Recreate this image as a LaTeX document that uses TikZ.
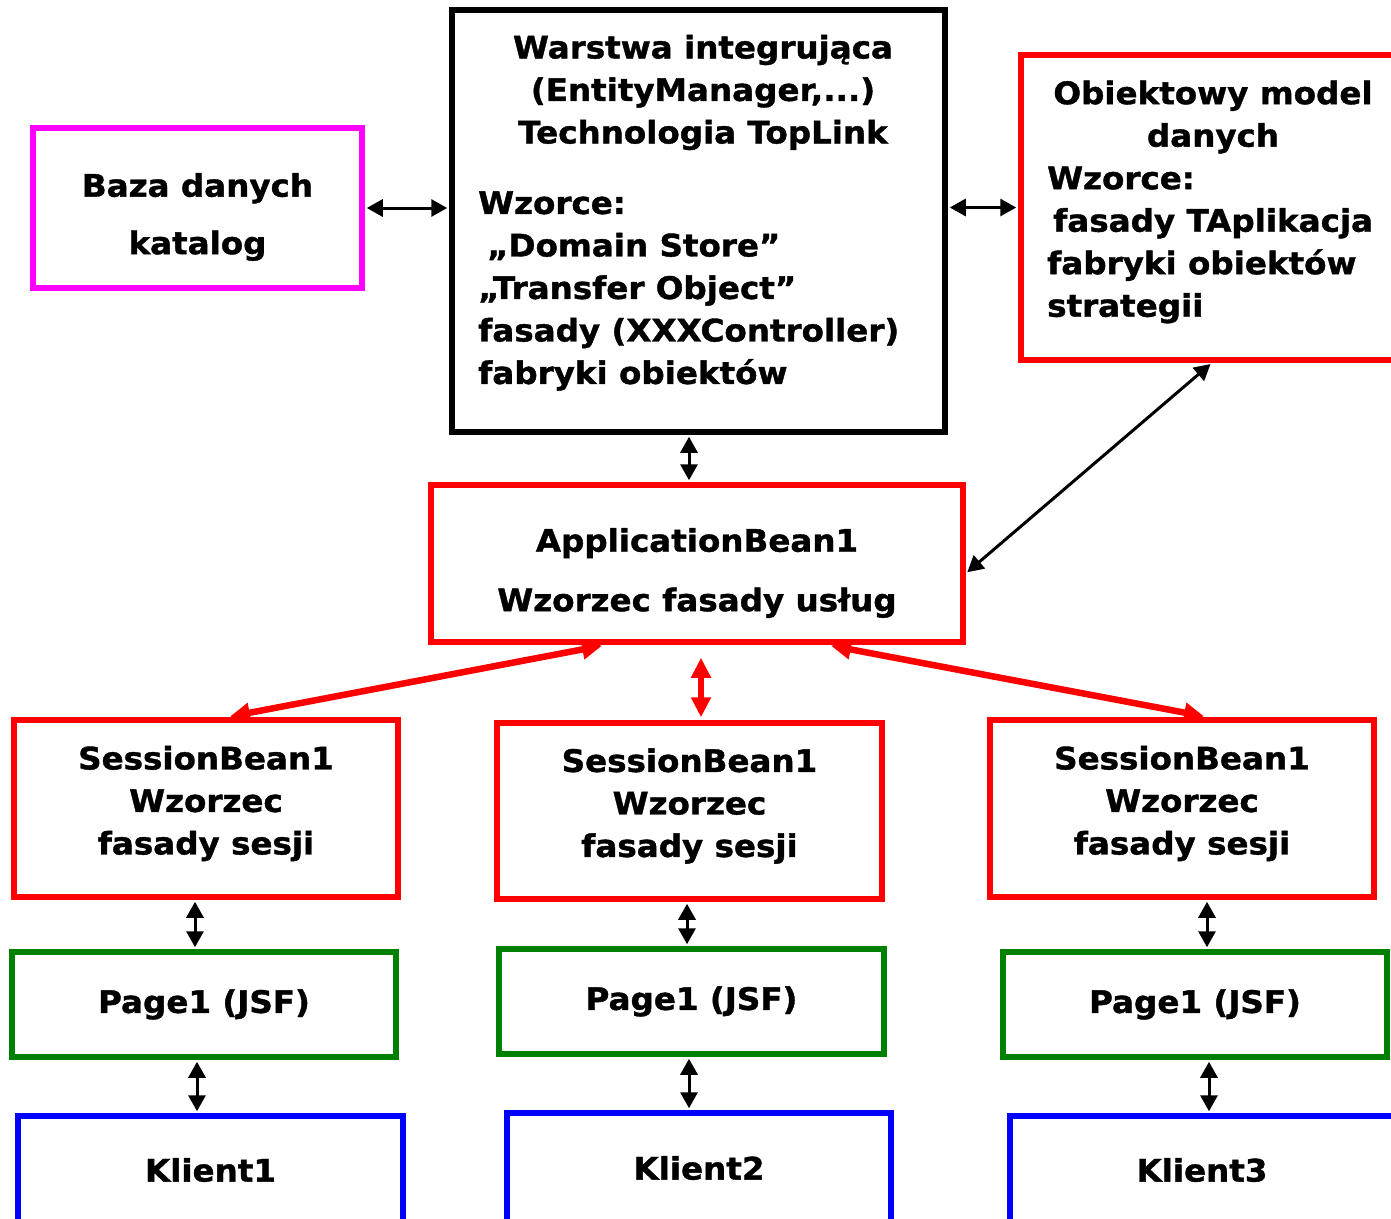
\documentclass[tikz,border=0pt]{standalone}
\usepackage{fontspec}
\setmainfont{DejaVu Sans}[FakeStretch=1.05, BoldFeatures={FakeBold=1.2}]
\usetikzlibrary{arrows.meta}
\usetikzlibrary{positioning}
\usetikzlibrary{calc}
\definecolor{boxred}{RGB}{255,0,0}
\definecolor{boxgreen}{RGB}{0,128,0}
\definecolor{boxblue}{RGB}{0,0,255}
\definecolor{boxmagenta}{RGB}{255,0,255}
\newcommand{\diagfont}{\fontsize{31}{42.5}\selectfont\bfseries}

\tikzset{
  box/.style={draw, line width=5.5pt, inner sep=0pt, align=center, font=\diagfont},
  txt/.style={inner sep=0pt, font=\diagfont},
  conn/.style={{Triangle[length=16pt,width=17pt]}-{Triangle[length=16pt,width=17pt]}, line width=3pt, shorten <=2pt, shorten >=2pt},
  bigconn/.style={{Triangle[length=20pt,width=19pt]}-{Triangle[length=20pt,width=19pt]}, line width=6.5pt, boxred}
}

\begin{document}
\begin{tikzpicture}[x=1pt,y=-1pt]
  \useasboundingbox (0,0) rectangle (1391,1218);
  % top row
  \node[box, boxmagenta, minimum width=329pt, minimum height=160pt] (baza) at (197.5,208) {};
  \node[txt, align=center] (bazatxt) at ([yshift=-9pt]baza.center) {Baza danych\\[15pt]katalog};
  \node[box, black, minimum width=493pt, minimum height=422pt] (warstwa) at (698.5,221) {};
  \node[box, boxred, minimum width=385pt, minimum height=305pt] (obiekt) at (1213.5,207.5) {};
  \node[txt, align=center] (warstwahead) at (703,92.5) {Warstwa integrująca\\(EntityManager,...)\\Technologia TopLink};
  \node[txt, align=left, anchor=west] (warstwalist) at (478,291) {Wzorce:\\\hspace{9pt}„Domain Store”\\„Transfer Object”\\fasady (XXXController)\\fabryki obiektów};
  \node[txt, align=center] (obiekthead) at (1213,117) {Obiektowy model\\danych};
  \node[txt, align=left, anchor=west] (obiektlist) at (1047,245) {Wzorce:\\\hspace{6pt}fasady TAplikacja\\fabryki obiektów\\strategii};
  % application bean
  \node[box, boxred, minimum width=532pt, minimum height=157pt] (app) at (697,563.5) {};
  \node[txt, align=center] (apptxt) at ([yshift=-9.5pt]app.center) {ApplicationBean1\\[17pt]Wzorzec fasady usług};
  % session beans
  \node[box, boxred, minimum width=384pt, minimum height=177pt] (sesja1) at (206,808.5) {};
  \node[box, boxred, minimum width=385pt, minimum height=176pt] (sesja2) at (689.5,811) {};
  \node[box, boxred, minimum width=384pt, minimum height=177pt] (sesja3) at (1182,808.5) {};
  \node[txt, align=center] (sesja1txt) at ([yshift=5pt]sesja1.center) {SessionBean1\\Wzorzec\\fasady sesji};
  \node[txt, align=center] (sesja2txt) at ([yshift=5pt]sesja2.center) {SessionBean1\\Wzorzec\\fasady sesji};
  \node[txt, align=center] (sesja3txt) at ([yshift=5pt]sesja3.center) {SessionBean1\\Wzorzec\\fasady sesji};
  % pages
  \node[box, boxgreen, minimum width=384pt, minimum height=105pt, text=black] (strona1) at (204,1004.5) {Page1 (JSF)};
  \node[box, boxgreen, minimum width=385pt, minimum height=105pt, text=black] (strona2) at (691.5,1001.5) {Page1 (JSF)};
  \node[box, boxgreen, minimum width=384pt, minimum height=105pt, text=black] (strona3) at (1195,1004.5) {Page1 (JSF)};
  % clients
  \node[box, boxblue, minimum width=385pt, minimum height=108pt, text=black] (klient1) at (210.5,1170) {Klient1};
  \node[box, boxblue, minimum width=384pt, minimum height=110pt, text=black] (klient2) at (699,1168) {Klient2};
  \node[box, boxblue, minimum width=384pt, minimum height=108pt, text=black] (klient3) at (1202,1170) {Klient3};

  % black connectors
  \draw[conn] (baza.east) -- (baza.east -| warstwa.west);
  \draw[conn] (obiekt.west -| warstwa.east) -- (obiekt.west);
  \draw[conn] ([xshift=-9.5pt]warstwa.south) -- ([xshift=-8pt]app.north);
  \draw[conn] ([xshift=-1.5pt]obiekt.south) -- ([yshift=-10pt]app.east);
  \draw[conn] ([xshift=-11pt]sesja1.south) -- ([xshift=-9pt]strona1.north);
  \draw[conn] ([xshift=-2.5pt]sesja2.south) -- ([xshift=-4.5pt]strona2.north);
  \draw[conn] ([xshift=25pt]sesja3.south) -- ([xshift=12pt]strona3.north);
  \draw[conn] ([xshift=-7pt]strona1.south) -- ([xshift=-13.5pt]klient1.north);
  \draw[conn] ([xshift=-2.5pt]strona2.south) -- ([xshift=-10pt]klient2.north);
  \draw[conn] ([xshift=14pt]strona3.south) -- ([xshift=7pt]klient3.north);
  % red connectors
  \draw[bigconn, shorten <=5pt, shorten >=4pt] ([xshift=-90pt]app.south) -- ([xshift=20pt]sesja1.north);
  \draw[bigconn, shorten <=13pt, shorten >=3pt] ([xshift=4pt]app.south) -- ([xshift=11.5pt]sesja2.north);
  \draw[bigconn, shorten <=5pt, shorten >=5pt] ([xshift=129pt]app.south) -- ([xshift=27pt]sesja3.north);
\end{tikzpicture}
\end{document}
